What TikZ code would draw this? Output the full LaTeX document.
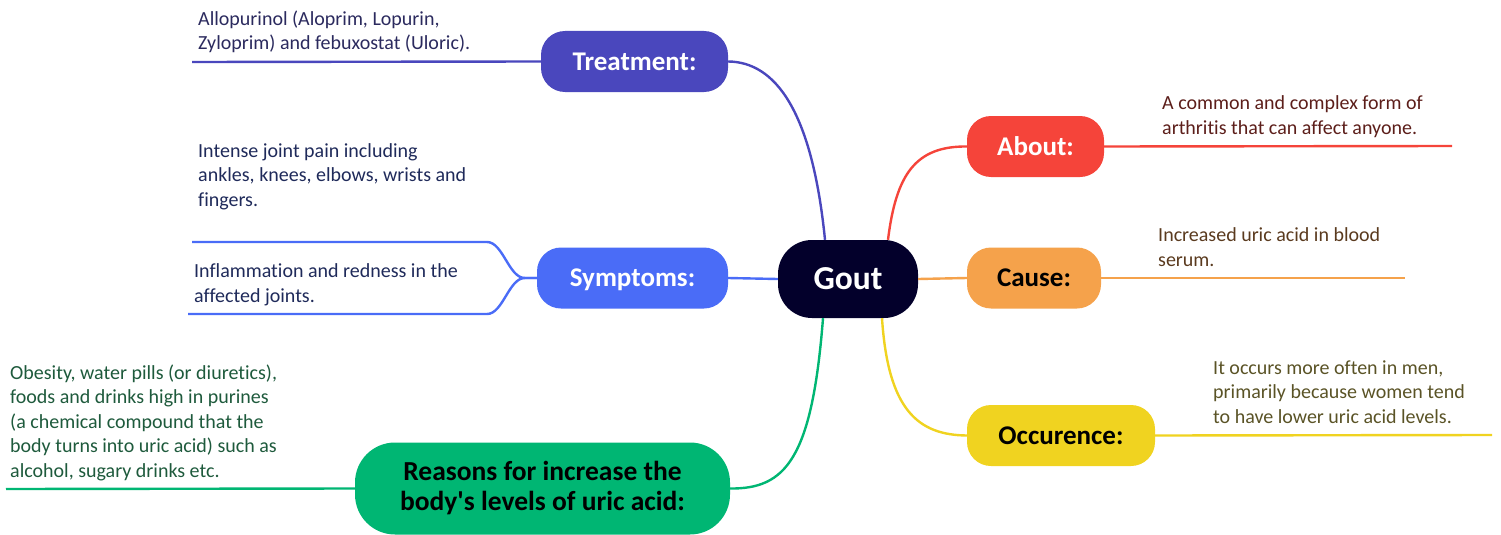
\documentclass[tikz,border=0pt]{standalone}
\usepackage{fontspec}
\setmainfont{Carlito}[Ligatures={TeX,NoCommon}]
\usetikzlibrary{positioning}
\definecolor{goutc}{HTML}{03002B}
\definecolor{treatc}{HTML}{4A47BD}
\definecolor{sympc}{HTML}{4A6CF7}
\definecolor{reasc}{HTML}{00B673}
\definecolor{aboutc}{HTML}{F5443A}
\definecolor{causec}{HTML}{F5A24B}
\definecolor{occc}{HTML}{F0D320}
\definecolor{treattxt}{HTML}{2B2A5E}
\definecolor{symptxt}{HTML}{1F2A5A}
\definecolor{reastxt}{HTML}{1E5A3C}
\definecolor{abouttxt}{HTML}{5C1E1A}
\definecolor{causetxt}{HTML}{5A3A1E}
\definecolor{occtxt}{HTML}{5A5326}

\begin{document}
\begin{tikzpicture}[x=1pt,y=-1pt,
  topic/.style={rounded corners=24pt,minimum height=61pt,inner sep=0pt,
    text height=17.4pt,text depth=0pt,font=\fontsize{27}{30}\selectfont\bfseries},
  leaf/.style={anchor=base west,align=left,inner sep=0pt,font=\fontsize{20}{24.5}\selectfont},
  branch/.style={line width=2.4pt}]
\useasboundingbox (0,0) rectangle (1501,535);

\node [topic,fill=goutc,text=white,minimum width=140pt,minimum height=78pt,rounded corners=34pt,
  text height=21.6pt,font=\fontsize{33.5}{36}\selectfont\bfseries] (gout) at (848,279) {Gout};
\node [topic,fill=treatc,text=white,minimum width=187pt] (treat) at (634.5,61.5) {Treatment:};
\node [topic,fill=sympc,text=white,minimum width=191pt] (symp) at (632.5,278) {Symptoms:};
\node [topic,fill=reasc,text=black,minimum width=375pt,minimum height=92pt,rounded corners=40pt,
  text height=,text depth=,align=center,font=\fontsize{27.5}{30}\selectfont\bfseries] (reas) at (542.5,488.5)
  {Reasons for increase the\\body\textquotesingle s levels of uric acid:};
\node [topic,fill=aboutc,text=white,minimum width=137pt] (about) at (1035.5,146.5) {About:};
\node [topic,fill=causec,text=black,minimum width=134pt] (cause) at (1034,278) {Cause:};
\node [topic,fill=occc,text=black,minimum width=188pt] (occ) at (1061,435.5) {Occurence:};

\draw [branch,treatc] ([xshift=-23pt]gout.north) .. controls (812,110) and (775,62) .. (treat.east);
\draw [branch,aboutc] ([xshift=40pt]gout.north) .. controls (896,175) and (915,146) .. (about.west);
\draw [branch,causec] (gout.east) -- (cause.west);
\draw [branch,sympc] (symp.east) -- (gout.west);
\draw [branch,reasc] ([xshift=-25pt]gout.south) .. controls (812,460) and (785,489) .. (reas.east);
\draw [branch,occc] ([xshift=34pt]gout.south) .. controls (888,410) and (918,435) .. (occ.west);

\coordinate (treatL) at (192,62);
\coordinate (sympAk) at (487,242);
\coordinate (sympA) at (192,242);
\coordinate (sympBk) at (487,314);
\coordinate (sympB) at (188,314);
\coordinate (reasL) at (6,489);
\coordinate (aboutR) at (1452,146);
\coordinate (causeR) at (1405,278);
\coordinate (occR) at (1492,435);

\draw [branch,treatc] (treat.west) -- (treatL);
\draw [branch,sympc] (symp.west) -- ++(-12,0) .. controls +(-16,0) and +(16,0) .. (sympAk) -- (sympA);
\draw [branch,sympc] (symp.west) -- ++(-12,0) .. controls +(-16,0) and +(16,0) .. (sympBk) -- (sympB);
\draw [branch,reasc] (reas.west) -- (reasL);
\draw [branch,aboutc] (about.east) -- (aboutR);
\draw [branch,causec] (cause.east) -- (causeR);
\draw [branch,occc] (occ.east) -- (occR);

\node [leaf,text=treattxt] (treatT) at (198,50) {Allopurinol (Aloprim, Lopurin,\\Zyloprim) and febuxostat (Uloric).};
\node [leaf,text=symptxt] (sympTa) at (198,206) {Intense joint pain including\\ankles, knees, elbows, wrists and\\fingers.};
\node [leaf,text=symptxt] (sympTb) at (194,302) {Inflammation and redness in the\\affected joints.};
\node [leaf,text=reastxt] (reasT) at (10,477) {Obesity, water pills (or diuretics),\\foods and drinks high in purines\\(a chemical compound that the\\body turns into uric acid) such as\\alcohol, sugary drinks etc.};
\node [leaf,text=abouttxt] (aboutT) at (1162,134) {A common and complex form of\\arthritis that can affect anyone.};
\node [leaf,text=causetxt] (causeT) at (1158,266) {Increased uric acid in blood\\serum.};
\node [leaf,text=occtxt] (occT) at (1213,423) {It occurs more often in men,\\primarily because women tend\\to have lower uric acid levels.};
\end{tikzpicture}
\end{document}
